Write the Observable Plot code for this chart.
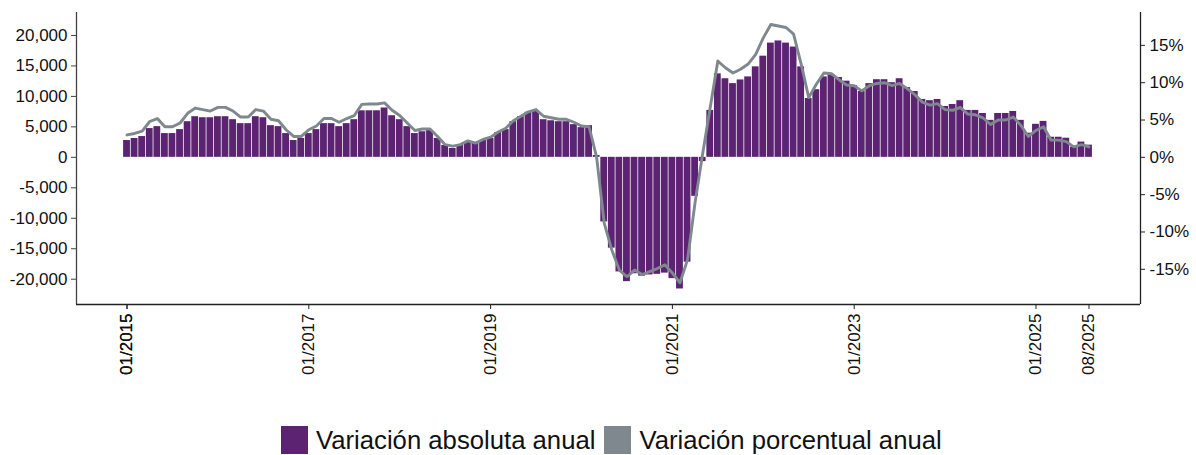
<!DOCTYPE html>
<html><head><meta charset="utf-8">
<script src="https://cdn.jsdelivr.net/npm/d3@7"></script>
<script src="https://cdn.jsdelivr.net/npm/@observablehq/plot@0.6"></script>
<style>
body{margin:0;background:#fff;font-family:"Liberation Sans",Arial,sans-serif;}
#wrap{position:relative;width:1196px;height:455px;overflow:hidden;}
#legend{position:absolute;top:425px;left:281px;display:flex;align-items:center;font-size:25.7px;color:#111;line-height:30px;}
.item{display:flex;align-items:center;margin-right:9px;}
.sw{width:27px;height:28px;margin-right:8px;}
</style></head><body>
<div id="wrap"><div id="chart"></div><div id="legend"></div></div>
<script>
// Monthly categories 01/2015 .. 08/2025
const startMonth = "2015-01-01", endMonth = "2025-09-01";
const months = d3.utcMonths(new Date(startMonth), new Date(endMonth)).map(d3.utcFormat("%m/%Y"));

// Variación absoluta anual (left axis)
const absVar = [
  2760,3090,3410,4720,5040,3900,3900,4550,5850,6670,6500,6500,
  6670,6670,6180,5530,5530,6670,6500,5200,5040,3900,2760,3090,
  3900,4550,5530,5530,5040,5530,6180,7640,7640,7640,8100,6830,
  6180,5040,3900,4200,4400,3090,1950,1460,1950,2440,2280,2760,
  3090,4070,4550,5850,6670,7400,7600,6180,6000,5850,5850,5370,
  4880,5200,300,-10600,-14900,-18800,-20400,-19100,-19500,-19300,-19200,-19000,
  -19900,-21600,-17200,-6400,-700,7700,13700,12900,12100,12700,13200,14850,
  16600,18750,19100,18750,18100,14850,9650,11100,13200,13550,13100,12500,
  11760,10800,12100,12740,12740,12250,12900,11440,10800,9500,9300,9500,
  8350,8670,9300,7700,7700,7200,6070,7200,7200,7530,6070,3960,
  5420,5900,3300,3300,3140,1680,2500,2000
];
// Variación porcentual anual (right axis, %)
const pctVar = [
  3.0,3.2,3.5,4.8,5.2,4.1,4.1,4.6,5.9,6.6,6.4,6.2,
  6.7,6.7,6.2,5.4,5.4,6.4,6.2,5.1,4.9,3.7,2.8,2.8,
  3.7,4.2,5.2,5.2,4.7,5.2,5.6,7.1,7.15,7.15,7.3,6.3,
  5.6,4.6,3.6,3.8,3.8,2.8,1.7,1.5,1.7,2.2,1.9,2.4,
  2.7,3.4,3.9,4.9,5.5,6.1,6.4,5.5,5.3,5.1,5.1,4.7,
  4.2,4.1,0.0,-8.8,-12.4,-15.1,-16.0,-15.1,-15.7,-15.3,-14.9,-14.4,
  -15.5,-16.8,-13.7,-6.0,0.5,6.7,12.9,12.0,11.3,11.8,12.5,13.8,
  16.0,17.8,17.6,17.4,16.5,12.5,8.0,9.8,11.3,11.2,10.4,9.7,
  9.6,8.9,9.6,9.9,10.0,9.6,9.9,9.2,8.4,7.4,7.0,7.2,
  6.4,6.3,6.7,5.8,5.7,5.3,4.4,5.0,5.0,5.4,4.3,2.8,
  3.6,4.1,2.3,2.3,2.1,1.4,1.7,1.4
];

const xTickLabels = ["01/2015","01/2015","01/2017","01/2019","01/2021","01/2023","01/2025","08/2025"];
const leftTicks = [-20000,-15000,-10000,-5000,0,5000,10000,15000,20000];
const rightTicks = [-15,-10,-5,0,5,10,15];
const seriesNames = ["Variación absoluta anual","Variación porcentual anual"];

const PURPLE = "#5B2372", GRAY = "#7F888E";
const K = 1225; // left-axis units per 1% on the right axis
const xDomain = [-6.67, 133.8];
const yDomain = [-24150, 23770];

const data = months.map((m,i)=>({i, m, abs: absVar[i], pct: pctVar[i]}));
const fmt = d => (d<0?"-":"") + d3.format(",")(Math.abs(d));

const chart = Plot.plot({
  width:1196, height:415,
  marginLeft:76, marginRight:56, marginTop:12, marginBottom:111,
  style:{fontFamily:"'Liberation Sans', Arial, sans-serif", fontSize:"17px", color:"#111", background:"#fff"},
  x:{type:"linear", domain:xDomain, axis:null},
  y:{domain:yDomain, axis:null},
  marks:[
    Plot.rectY(data,{x1:d=>d.i-0.45, x2:d=>d.i+0.45, y1:0, y2:"abs", fill:PURPLE}),
    Plot.line(data,{x:"i", y:d=>d.pct*K, stroke:GRAY, strokeWidth:2.9, strokeLinejoin:"round"}),
    Plot.ruleX([xDomain[0]],{stroke:"#444", strokeWidth:1.3}),
    Plot.ruleX([xDomain[1]],{stroke:"#222", strokeWidth:1.3}),
    Plot.ruleY([yDomain[0]],{stroke:"#222", strokeWidth:1.3}),
    Plot.axisY({anchor:"left", ticks:leftTicks, tickFormat:fmt, tickSize:5, tickPadding:4, label:null, stroke:"#444"}),
    Plot.axisY({anchor:"right", ticks:rightTicks.map(p=>p*K), tickFormat:v=>Math.round(v/K)+"%", tickSize:4, tickPadding:5, label:null, stroke:"#222"}),
    Plot.axisX({ticks:xTickLabels.map(l=>months.indexOf(l)), tickFormat:i=>months[i], tickRotate:-90, tickSize:5, tickPadding:4, label:null, stroke:"#222"})
  ]
});
document.getElementById("chart").appendChild(chart);

const legend = document.getElementById("legend");
[[seriesNames[0],PURPLE],[seriesNames[1],GRAY]].forEach(([name,col])=>{
  const it = document.createElement("div"); it.className="item";
  const sw = document.createElement("div"); sw.className="sw"; sw.style.background=col;
  const tx = document.createElement("span"); tx.textContent=name;
  it.appendChild(sw); it.appendChild(tx); legend.appendChild(it);
});
</script>
</body></html>
